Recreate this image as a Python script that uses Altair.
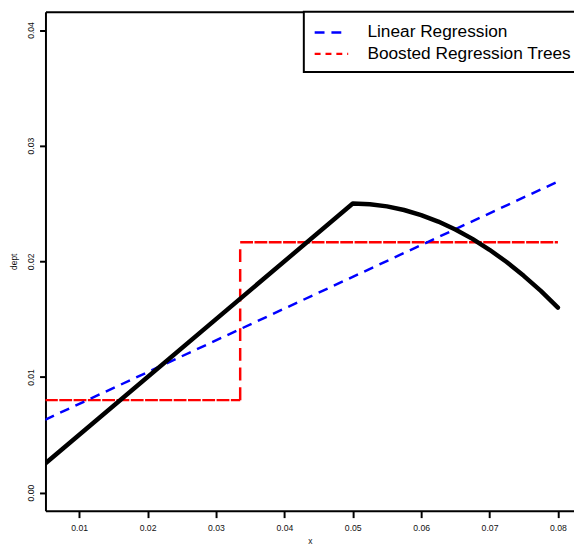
import altair as alt
import pandas as pd

# ---- data ----
true_x = [0.005, 0.05, 0.0525, 0.055, 0.0575, 0.06, 0.0625, 0.065, 0.0675,
          0.07, 0.0725, 0.075, 0.0775, 0.08]
true_y = [0.0025, 0.025, 0.02494, 0.02475, 0.02444, 0.024, 0.02344, 0.02275,
          0.02194, 0.021, 0.01994, 0.01875, 0.01744, 0.016]

lin_x = [0.005, 0.08]
lin_y = [0.0063, 0.0269]

brt_breaks = [0.005, 0.03354, 0.08]
brt_levels = [0.0080, 0.02166]

series_names = ["Linear Regression", "Boosted Regression Trees"]
series_colors = ["#0000FF", "#FF0000"]
series_dashes = [[10, 7], [6, 5]]

x_ticks = [0.01, 0.02, 0.03, 0.04, 0.05, 0.06, 0.07, 0.08]
y_ticks = [0.0, 0.01, 0.02, 0.03, 0.04]
x_domain = [0.00507, 0.08235]
y_domain = [-0.00156, 0.04158]

FONT = "Liberation Sans"
W, H = 536, 506

df_true = pd.DataFrame({"x": true_x, "y": true_y})
df_lin = pd.DataFrame({"x": lin_x, "y": lin_y, "series": series_names[0]})
df_brt_h = pd.DataFrame({"x": brt_breaks[:-1], "x2": brt_breaks[1:], "y": brt_levels})
df_brt_v = pd.DataFrame({"x": [brt_breaks[1]], "y": [brt_levels[0]], "y2": [brt_levels[1]]})

xs = alt.Scale(domain=x_domain, nice=False, zero=False)
ys = alt.Scale(domain=y_domain, nice=False, zero=False)

y_axis = alt.Axis(
    values=y_ticks, format=".2f", orient="left", grid=False,
    domain=True, domainColor="black", domainWidth=2,
    ticks=True, tickColor="black", tickWidth=2, tickSize=6,
    labelAngle=270, labelAlign="center", labelBaseline="alphabetic",
    labelPadding=6, labelFont=FONT, labelFontSize=8.7, labelColor="#111111",
    labelFlush=False, labelOverlap=False,
    title="dept", titleFont=FONT, titleFontSize=8.5, titleFontWeight="normal",
    titleColor="#111111", titleAngle=270, titleAlign="center",
    titleBaseline="middle", titleX=-32, titleY=253,
)

x_axis_bottom = alt.Axis(
    values=x_ticks, format=".2f", orient="bottom", grid=False,
    domain=True, domainColor="black", domainWidth=2,
    ticks=True, tickColor="black", tickWidth=2, tickSize=7,
    labelPadding=6, labelFont=FONT, labelFontSize=8.8, labelColor="#111111",
    labelFlush=False, labelOverlap=False,
    title="x", titleFont=FONT, titleFontSize=8.5, titleFontWeight="normal",
    titleColor="#111111", titleBaseline="middle", titleY=30,
)

x_axis_top = alt.Axis(
    orient="top", grid=False, labels=False, ticks=False,
    domain=True, domainColor="black", domainWidth=2, title=None,
)

legend = alt.Legend(
    title=None, orient="none", legendX=262, legendY=0,
    symbolType="M-1,0H2.4", symbolSize=400, symbolStrokeWidth=2.5,
    labelFont=FONT, labelFontSize=17.5, labelColor="black", labelLimit=400,
    labelOffset=32, padding=9.5, rowPadding=1.7,
    fillColor="white", strokeColor="black",
)

red_h = alt.Chart(df_brt_h).mark_rule(
    color="#FF0000", strokeWidth=2.5, strokeDash=[13, 1.5], clip=True
).encode(
    x=alt.X("x:Q", scale=xs, axis=x_axis_top),
    x2="x2:Q",
    y=alt.Y("y:Q", scale=ys, axis=y_axis),
)

red_v = alt.Chart(df_brt_v).mark_rule(
    color="#FF0000", strokeWidth=2.5, strokeDash=[13, 7], clip=True
).encode(
    x=alt.X("x:Q", scale=xs, axis=None),
    y=alt.Y("y:Q", scale=ys, axis=y_axis),
    y2="y2:Q",
)

blue = alt.Chart(df_lin).mark_line(strokeWidth=2.5, clip=True).encode(
    x=alt.X("x:Q", scale=xs, axis=None),
    y=alt.Y("y:Q", scale=ys, axis=y_axis),
    color=alt.Color("series:N", scale=alt.Scale(domain=series_names, range=series_colors), legend=legend),
    strokeDash=alt.StrokeDash("series:N", scale=alt.Scale(domain=series_names, range=series_dashes), legend=legend),
)

black = alt.Chart(df_true).mark_line(
    color="black", strokeWidth=4.5, strokeCap="round", strokeJoin="round", clip=True
).encode(
    x=alt.X("x:Q", scale=xs, axis=x_axis_bottom),
    y=alt.Y("y:Q", scale=ys, axis=y_axis),
)

chart = alt.layer(red_h, red_v, blue, black).resolve_axis(x="independent").properties(
    width=W, height=H,
    autosize=alt.AutoSizeParams(type="none"),
    padding={"left": 38, "top": 0, "right": 0, "bottom": 34},
    background="white",
).configure_view(stroke=None).configure_legend(strokeWidth=2)

chart.save("out.html", embed_options={"renderer": "svg", "actions": False})
